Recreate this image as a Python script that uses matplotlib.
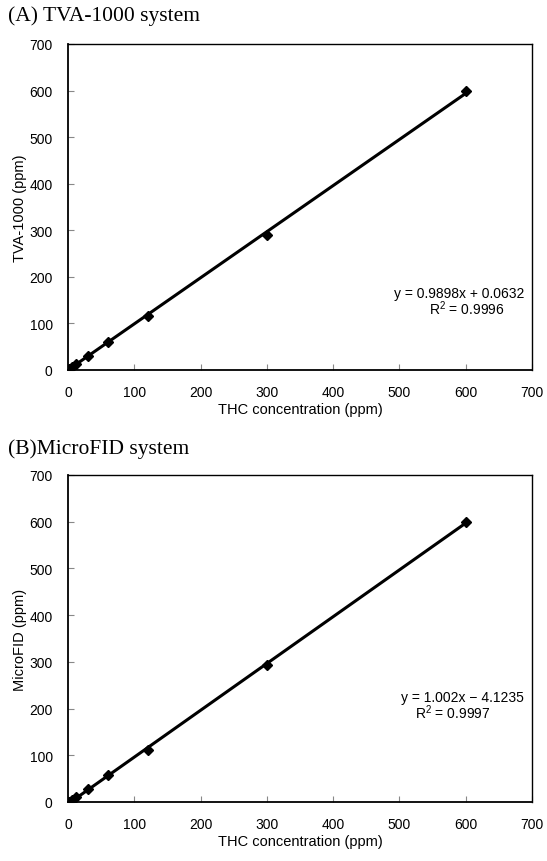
import matplotlib
matplotlib.use("Agg")
import matplotlib.pyplot as plt
import numpy as np

# ─── data ────────────────────────────────────────────
thc      = [1.5, 6, 12, 30, 60, 120, 300, 600]
tva      = [2, 6, 13, 31, 60, 116, 290, 600]
microfid = [1, 5, 10, 27, 58, 112, 293, 600]

fit_a = (0.9898, 0.0632)
fit_b = (1.002, -4.1235)
eq_a  = ["y = 0.9898x + 0.0632", "R$^2$ = 0.9996"]
eq_b  = ["y = 1.002x \u2212 4.1235", "R$^2$ = 0.9997"]

ticks = list(range(0, 701, 100))

plt.rcParams["font.family"] = ["Liberation Sans", "DejaVu Sans"]
plt.rcParams["mathtext.fontset"] = "custom"
plt.rcParams["mathtext.rm"] = "Liberation Sans"

fig = plt.figure(figsize=(5.47, 8.62), dpi=100)

def panel(rect, y, fit, eq, ylabel, title, title_y, eq_y, r2_y, r2_x):
    ax = fig.add_axes(rect)
    xs = np.array([0, max(thc)])
    ax.plot(xs, fit[0] * xs + fit[1], color="black", lw=2.2, zorder=2)
    ax.plot(thc, y, ls="none", marker="D", ms=5.5, color="black", zorder=3)
    ax.set_xlim(0, 700); ax.set_ylim(0, 700)
    ax.set_xticks(ticks); ax.set_yticks(ticks)
    ax.tick_params(direction="in", length=4, width=0.8, color="#888888",
                   labelsize=10, pad=11)
    for s in ax.spines.values():
        s.set_linewidth(1.0)
    ax.spines["left"].set_linewidth(1.3)
    ax.spines["bottom"].set_linewidth(1.3)
    ax.set_xlabel("THC concentration (ppm)", fontsize=10.5, labelpad=2)
    ax.set_ylabel(ylabel, fontsize=10.5, labelpad=2)
    fig.text(8 / 547, title_y, title, family=["Liberation Serif"],
             fontsize=15.5, va="center", ha="left")
    ax.text(0.983, eq_y, eq[0], transform=ax.transAxes, ha="right",
            va="center", fontsize=10)
    ax.text(r2_x, r2_y, eq[1], transform=ax.transAxes, ha="center",
            va="center", fontsize=10)
    return ax

panel([68 / 547, 1 - 371 / 862, 464 / 547, 326 / 862], tva, fit_a, eq_a,
      "TVA-1000 (ppm)", "(A) TVA-1000 system", 1 - 16 / 862, 0.236, 0.19, 0.86)
panel([68 / 547, 1 - 803 / 862, 464 / 547, 327 / 862], microfid, fit_b, eq_b,
      "MicroFID (ppm)", "(B)MicroFID system", 1 - 449 / 862, 0.32, 0.275, 0.83)

fig.savefig("out.png", dpi=100, facecolor="white")
